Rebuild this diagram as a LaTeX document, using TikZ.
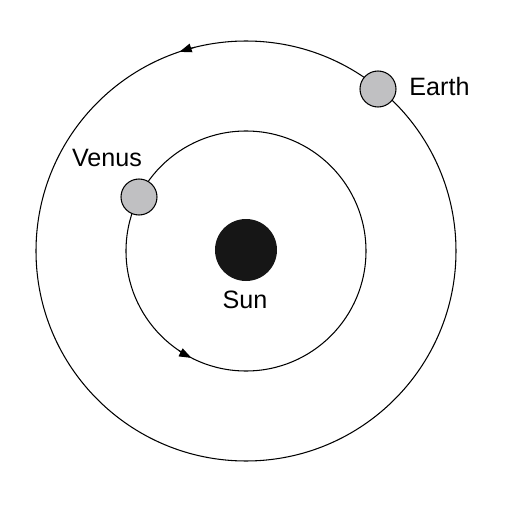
\documentclass[tikz,border=0pt]{standalone}
\usepackage{fontspec}
\setmainfont{Liberation Sans}
\usetikzlibrary{arrows.meta}
\definecolor{planetgray}{RGB}{192,192,194}
\definecolor{sunblack}{RGB}{22,22,22}
\begin{document}
\begin{tikzpicture}[x=0.02cm,y=0.02cm,
  orbit/.style={draw=black,line width=0.6pt},
  planet/.style={circle,draw=black,line width=0.6pt,fill=planetgray,minimum size=36*0.02cm,inner sep=0pt},
  sunbody/.style={circle,fill=sunblack,minimum size=62*0.02cm,inner sep=0pt},
  lbl/.style={font=\fontsize{14.3}{17}\selectfont,inner sep=0pt},
  tip/.style={line width=0.6pt,-{Triangle[length=7pt,width=5pt]}}]
\useasboundingbox (0,0) rectangle (512,512);
\coordinate (c) at (246,261);
\draw[orbit] (c) circle[radius=210];
\draw[orbit] (c) circle[radius=120];
\draw[tip] (c) ++(104:210) arc[start angle=104,end angle=108.5,radius=210];
\draw[tip] (c) ++(236:120) arc[start angle=236,end angle=243,radius=120];
\node[sunbody] (sun) at (246,262) {};
\node[planet] (earth) at (378,423) {};
\node[planet] (venus) at (139,315) {};
\node[lbl] (earthlbl) at (439.5,425) {Earth};
\node[lbl] (venuslbl) at (107,354) {Venus};
\node[lbl] (sunlbl) at (245,212) {Sun};
\end{tikzpicture}
\end{document}
